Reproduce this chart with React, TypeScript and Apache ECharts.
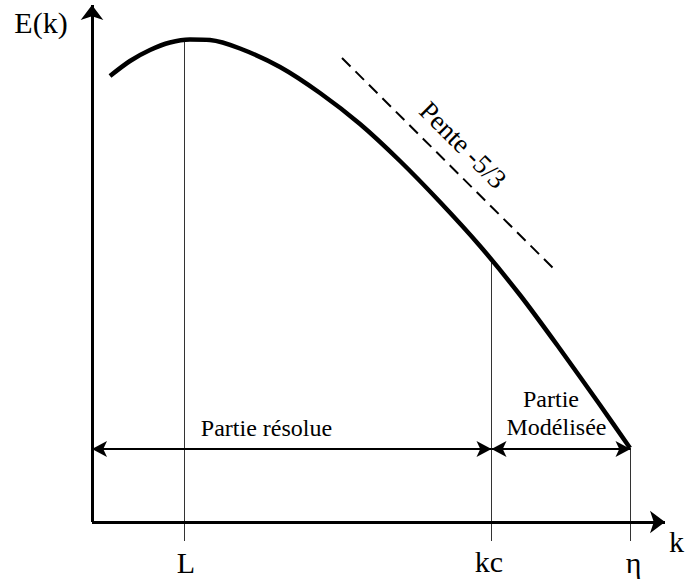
import React, { useEffect, useRef } from 'react';
import * as echarts from 'echarts';

// Spectrum curve E(k) (abstract units: k along x, E along y)
const curveK = [3.6, 7.6, 11.6, 15.6, 19.6, 23.6, 29.6, 37.6, 45.6, 53.6, 61.6, 69.6, 77.6, 85.6, 93.6, 101.6, 107.6];
const curveE = [89.2, 92.2, 94.4, 95.9, 96.5, 96.4, 94.7, 91, 85.8, 79.6, 72.2, 64, 55.2, 45.4, 34.6, 23.4, 14.8];

// -5/3 slope reference segment
const slopeK = [50, 93];
const slopeE = [92.8, 50];

// Characteristic wavenumbers (vertical markers)
const markerK = [18.5, 79.9, 107.7];
const markerTopE = [96.5, 52.4, 14.8];
const markerBottomE = -3.8;

// Range arrows
const arrowE = 14.6;
const resolvedRange = [0, 79.9];
const modelledRange = [79.9, 107.7];

// Axis extents
const axisEndK = 114.6;
const axisEndE = 103.4;

// Text labels
const labelTexts = ['E(k)', 'k', 'L', 'kc', 'η', 'Partie résolue', 'Partie', 'Modélisée', 'Pente -5/3'];
const labelK = [-10.2, 116.9, 18.8, 79.4, 108.3, 34.9, 91.8, 92.9, 74.2];
const labelE = [100, -3.9, -8, -7.9, -8, 18.8, 24.6, 19, 75.4];

const labelFontSize = [30, 30, 30, 30, 30, 24, 24, 24, 27];
const labelRotation = [0, 0, 0, 0, 0, 0, 0, 0, -Math.PI / 4];
const FONT = 'Liberation Serif';

export default function App() {
  const ref = useRef<HTMLDivElement>(null);
  useEffect(() => {
    if (!ref.current) return;
    const chart = echarts.init(ref.current, null, { renderer: 'svg' });
    const markerSeries = markerK.map((k, i) => ({
      type: 'line',
      data: [[k, markerTopE[i]], [k, markerBottomE]],
      showSymbol: false,
      symbol: 'none',
      lineStyle: { color: '#333', width: 1 },
      silent: true,
      z: 1,
    }));
    chart.setOption({
      animation: false,
      textStyle: { fontFamily: FONT },
      grid: { left: 92, right: 19, top: 2, bottom: 4 },
      xAxis: { type: 'value', min: 0, max: 115, show: false },
      yAxis: { type: 'value', min: -11, max: 104, show: false },
      series: [
        ...markerSeries,
        {
          type: 'line',
          data: curveK.map((k, i) => [k, curveE[i]]),
          smooth: 0.3,
          showSymbol: false,
          symbol: 'none',
          lineStyle: { color: '#000', width: 4.5 },
          silent: true,
          z: 3,
        },
        {
          type: 'line',
          data: slopeK.map((k, i) => [k, slopeE[i]]),
          showSymbol: false,
          symbol: 'none',
          lineStyle: { color: '#000', width: 2, type: [12, 7] },
          silent: true,
          z: 2,
        },
        {
          type: 'line',
          data: [[0, 0]],
          showSymbol: false,
          symbol: 'none',
          lineStyle: { width: 0 },
          silent: true,
          z: 4,
          markLine: {
            silent: true,
            animation: false,
            symbol: ['none', 'arrow'],
            symbolSize: [17, 15],
            label: { show: false },
            lineStyle: { color: '#000', width: 3, type: 'solid' },
            emphasis: { disabled: true },
            data: [
              [{ coord: [0, 0] }, { coord: [axisEndK, 0] }],
              [{ coord: [0, 0] }, { coord: [0, axisEndE] }],
            ],
          },
        },
        {
          type: 'line',
          data: [[0, arrowE]],
          showSymbol: false,
          symbol: 'none',
          lineStyle: { width: 0 },
          silent: true,
          z: 4,
          markLine: {
            silent: true,
            animation: false,
            symbol: ['arrow', 'arrow'],
            symbolSize: [12, 15],
            label: { show: false },
            lineStyle: { color: '#000', width: 2, type: 'solid' },
            emphasis: { disabled: true },
            data: [
              [{ coord: [resolvedRange[0], arrowE] }, { coord: [resolvedRange[1], arrowE] }],
              [{ coord: [modelledRange[0], arrowE] }, { coord: [modelledRange[1], arrowE] }],
            ],
          },
        },
        {
          type: 'custom',
          data: labelK.map((k, i) => [k, labelE[i]]),
          silent: true,
          z: 5,
          renderItem: (params: any, api: any) => {
            const i = params.dataIndex;
            const p = api.coord([api.value(0), api.value(1)]);
            return {
              type: 'text',
              x: p[0],
              y: p[1],
              rotation: labelRotation[i],
              style: {
                text: labelTexts[i],
                font: `${labelFontSize[i]}px ${FONT}`,
                fill: '#000',
                align: 'center',
                verticalAlign: 'middle',
              },
            };
          },
        },
      ],
    });
    return () => chart.dispose();
  }, []);
  return <div ref={ref} style={{ width: 686, height: 581, position: 'absolute', left: 0, top: 0, background: '#fff' }} />;
}
